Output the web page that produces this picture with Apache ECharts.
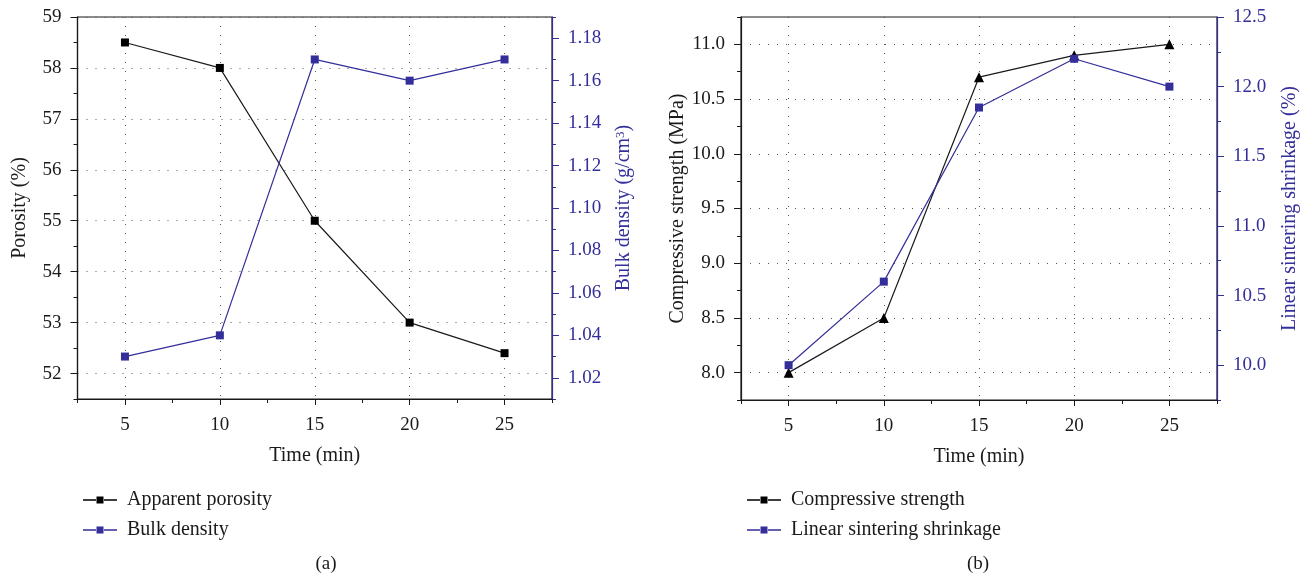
<!DOCTYPE html>
<html>
<head>
<meta charset="utf-8">
<script src="https://cdn.jsdelivr.net/npm/echarts@6/dist/echarts.min.js"></script>
<style>
  html, body { margin: 0; padding: 0; background: #fff; }
  #main { width: 1304px; height: 580px; }
</style>
</head>
<body>
<div id="main"></div>
<script>
var times = [5, 10, 15, 20, 25];
var porosity = [58.5, 58.0, 55.0, 53.0, 52.4];
var bulkDensity = [1.03, 1.04, 1.17, 1.16, 1.17];
var strength = [8.0, 8.5, 10.7, 10.9, 11.0];
var shrinkage = [10.0, 10.6, 11.85, 12.2, 12.0];

var timeTicks = [5, 10, 15, 20, 25];
var porosityTicks = [52, 53, 54, 55, 56, 57, 58, 59];
var densityTicks = [1.02, 1.04, 1.06, 1.08, 1.10, 1.12, 1.14, 1.16, 1.18];
var strengthTicks = [8.0, 8.5, 9.0, 9.5, 10.0, 10.5, 11.0];
var shrinkageTicks = [10.0, 10.5, 11.0, 11.5, 12.0, 12.5];

var BLACK = '#1a1a1a';
var BLUE = '#332e99';
var FONT = '"Liberation Serif", "DejaVu Serif", serif';
var legendIcon = 'path://M0,2.8H13V4.2H0Z M13.5,0H20.5V7H13.5Z M21,2.8H34V4.2H21Z';

function pairs(ys) {
    return times.map(function (t, i) { return [t, ys[i]]; });
}

var dotted = { show: true, lineStyle: { color: '#555', width: 1, type: [1, 8] } };

function mainX(grid) {
    return {
        type: 'value', gridIndex: grid, position: 'bottom',
        min: 2.5, max: 27.5,
        name: 'Time (min)', nameLocation: 'middle', nameGap: 47,
        nameTextStyle: { fontFamily: FONT, fontSize: 20, color: BLACK },
        axisLine: { lineStyle: { color: BLACK, width: 1.2 } },
        axisTick: { customValues: timeTicks, length: 6, lineStyle: { color: BLACK } },
        axisLabel: { customValues: timeTicks, margin: 17, fontFamily: FONT, fontSize: 19, color: BLACK },
        splitLine: dotted
    };
}

function minorX(grid) {
    return {
        type: 'value', gridIndex: grid, position: 'bottom',
        min: 2.5, max: 27.5, interval: 5,
        axisLine: { show: false },
        axisTick: { length: 4, lineStyle: { color: BLACK } },
        axisLabel: { show: false },
        splitLine: { show: false }
    };
}

function mainY(grid, pos, min, max, ticks, digits, name, gap, color, grid_lines) {
    return {
        type: 'value', gridIndex: grid, position: pos,
        min: min, max: max,
        name: name, nameLocation: 'middle', nameGap: gap, nameRotate: 90,
        nameTextStyle: {
            fontFamily: FONT, fontSize: 20, color: color,
            rich: { sup: { fontFamily: FONT, fontSize: 13, color: color, verticalAlign: 'top', lineHeight: 20 } }
        },
        axisLine: { show: true, lineStyle: { color: color, width: 1.2 } },
        axisTick: { customValues: ticks, length: 7, lineStyle: { color: color } },
        axisLabel: {
            customValues: ticks, margin: 16, fontFamily: FONT, fontSize: 19, color: color,
            formatter: function (v) { return v.toFixed(digits); }
        },
        splitLine: grid_lines ? dotted : { show: false }
    };
}

function minorY(grid, pos, min, max, step, color) {
    return {
        type: 'value', gridIndex: grid, position: pos,
        min: min, max: max, interval: step,
        axisLine: { show: false },
        axisTick: { length: 4, lineStyle: { color: color } },
        axisLabel: { show: false },
        splitLine: { show: false }
    };
}

function legendAt(left, names) {
    return {
        left: left, top: 485, orient: 'vertical', itemGap: 10,
        itemWidth: 34, itemHeight: 7, selectedMode: false,
        textStyle: { fontFamily: FONT, fontSize: 20, color: BLACK, padding: [0, 0, 0, 5] },
        data: names.map(function (n) { return { name: n, icon: legendIcon }; })
    };
}

var chart = echarts.init(document.getElementById('main'), null, { renderer: 'canvas' });
chart.setOption({
    animation: false,
    backgroundColor: '#fff',
    grid: [
        { left: 77.5, top: 17, width: 474.5, height: 382, show: true, borderColor: BLACK, borderWidth: 1.2 },
        { left: 741, top: 17, width: 476, height: 383, show: true, borderColor: BLACK, borderWidth: 1.2 }
    ],
    xAxis: [mainX(0), minorX(0), mainX(1), minorX(1)],
    yAxis: [
        mainY(0, 'left', 51.5, 59, porosityTicks, 0, 'Porosity (%)', 48, BLACK, true),
        minorY(0, 'left', 51.5, 59, 0.5, BLACK),
        mainY(0, 'right', 1.01, 1.19, densityTicks, 2, 'Bulk density (g/cm{sup|3})', 62, BLUE, false),
        minorY(0, 'right', 1.01, 1.19, 0.01, BLUE),
        mainY(1, 'left', 7.75, 11.25, strengthTicks, 1, 'Compressive strength (MPa)', 50, BLACK, true),
        minorY(1, 'left', 7.75, 11.25, 0.25, BLACK),
        mainY(1, 'right', 9.75, 12.5, shrinkageTicks, 1, 'Linear sintering shrinkage (%)', 63, BLUE, false),
        minorY(1, 'right', 9.75, 12.5, 0.25, BLUE)
    ],
    legend: [
        legendAt(78, ['Apparent porosity', 'Bulk density']),
        legendAt(742, ['Compressive strength', 'Linear sintering shrinkage'])
    ],
    series: [
        {
            name: 'Apparent porosity', type: 'line', xAxisIndex: 0, yAxisIndex: 0,
            data: pairs(porosity), symbol: 'rect', symbolSize: 8,
            lineStyle: { color: BLACK, width: 1.2 }, itemStyle: { color: '#000' }
        },
        {
            name: 'Bulk density', type: 'line', xAxisIndex: 0, yAxisIndex: 2,
            data: pairs(bulkDensity), symbol: 'rect', symbolSize: 8,
            lineStyle: { color: BLUE, width: 1.2 }, itemStyle: { color: BLUE }
        },
        {
            name: 'Compressive strength', type: 'line', xAxisIndex: 2, yAxisIndex: 4,
            data: pairs(strength), symbol: 'triangle', symbolSize: 10,
            lineStyle: { color: BLACK, width: 1.2 }, itemStyle: { color: '#000' }
        },
        {
            name: 'Linear sintering shrinkage', type: 'line', xAxisIndex: 2, yAxisIndex: 6,
            data: pairs(shrinkage), symbol: 'rect', symbolSize: 8,
            lineStyle: { color: BLUE, width: 1.2 }, itemStyle: { color: BLUE }
        }
    ],
    graphic: [
        { type: 'text', x: 326, y: 564, style: { text: '(a)', font: '19px ' + FONT, fill: BLACK, textAlign: 'center', textVerticalAlign: 'middle' } },
        { type: 'text', x: 978, y: 564, style: { text: '(b)', font: '19px ' + FONT, fill: BLACK, textAlign: 'center', textVerticalAlign: 'middle' } }
    ]
});
</script>
</body>
</html>
